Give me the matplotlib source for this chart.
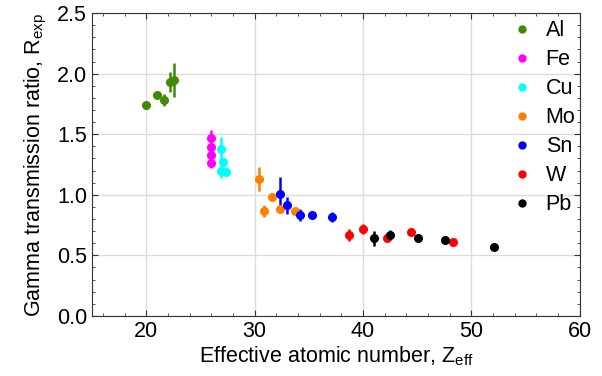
import matplotlib
matplotlib.use('Agg')
import matplotlib.pyplot as plt
from matplotlib.ticker import MultipleLocator, FormatStrFormatter
from matplotlib.lines import Line2D

plt.rcParams['font.family'] = ['Liberation Sans', 'DejaVu Sans']

# Datos: Z efectivo, razon de transmision y su error
al_z = [19.95, 20.95, 21.6, 22.2, 22.6]
al_r = [1.74, 1.82, 1.78, 1.93, 1.95]
al_e = [0.03, 0.02, 0.05, 0.08, 0.14]

fe_z = [26.0, 26.0, 26.0, 26.0]
fe_r = [1.465, 1.397, 1.331, 1.26]
fe_e = [0.07, 0.04, 0.04, 0.04]

cu_z = [26.85, 27.1, 26.9, 27.4]
cu_r = [1.38, 1.27, 1.20, 1.19]
cu_e = [0.1, 0.04, 0.06, 0.03]

mo_z = [30.4, 30.9, 31.6, 32.3, 33.7]
mo_r = [1.13, 0.865, 0.985, 0.88, 0.87]
mo_e = [0.1, 0.05, 0.03, 0.02, 0.02]

sn_z = [32.35, 33.0, 34.15, 35.3, 37.1]
sn_r = [1.01, 0.915, 0.835, 0.833, 0.814]
sn_e = [0.14, 0.07, 0.05, 0.02, 0.04]

w_z = [38.7, 40.0, 42.2, 44.4, 48.3]
w_r = [0.665, 0.715, 0.64, 0.695, 0.613]
w_e = [0.05, 0.04, 0.02, 0.02, 0.02]

pb_z = [41.0, 42.5, 45.1, 47.6, 52.05]
pb_r = [0.64, 0.665, 0.64, 0.627, 0.572]
pb_e = [0.06, 0.04, 0.02, 0.02, 0.02]

series = [
    ('Al', al_z, al_r, al_e, '#3f8a06'),
    ('Fe', fe_z, fe_r, fe_e, '#ff00ff'),
    ('Cu', cu_z, cu_r, cu_e, '#00ffff'),
    ('Mo', mo_z, mo_r, mo_e, '#ff7f00'),
    ('Sn', sn_z, sn_r, sn_e, '#0000ff'),
    ('W', w_z, w_r, w_e, '#ff0000'),
    ('Pb', pb_z, pb_r, pb_e, '#000000'),
]

fig = plt.figure(figsize=(6.02, 3.76), dpi=100)
ax = fig.add_axes([0.153, 0.16, 0.81, 0.805])

handles = []
for nombre, z, r, e, color in series:
    ax.errorbar(z, r, yerr=e, fmt='o', color=color, ms=5.5, elinewidth=1.8,
                capsize=0, zorder=3)
    handles.append(Line2D([], [], ls='none', marker='o', ms=5, color=color,
                          label=nombre))

ax.set_xlim(15, 60)
ax.set_ylim(0, 2.5)
ax.xaxis.set_major_locator(MultipleLocator(10))
ax.xaxis.set_minor_locator(MultipleLocator(2))
ax.yaxis.set_major_locator(MultipleLocator(0.5))
ax.yaxis.set_minor_locator(MultipleLocator(0.1))
ax.yaxis.set_major_formatter(FormatStrFormatter('%.1f'))
ax.grid(True, which='major', color='#dcdcdc', lw=1, zorder=0)
ax.tick_params(which='both', direction='in', top=True, right=True,
               labelsize=15.5, color='#333333')
ax.tick_params(which='major', length=4)
ax.tick_params(which='minor', length=2.5)
for s in ax.spines.values():
    s.set_color('#333333')

ax.set_xlabel('Effective atomic number, Z$_{\\mathregular{eff}}$', fontsize=15.5,
              labelpad=2)
ax.set_ylabel('Gamma transmission ratio, R$_{\\mathregular{exp}}$', fontsize=15.5,
              labelpad=6)

ax.legend(handles=handles, loc='upper right', frameon=False, fontsize=15.5,
          handletextpad=0.6, handlelength=1.0, borderaxespad=0.0,
          borderpad=0.2, labelspacing=0.37, bbox_to_anchor=(1.0, 0.99))

fig.savefig('out.png', dpi=100)
